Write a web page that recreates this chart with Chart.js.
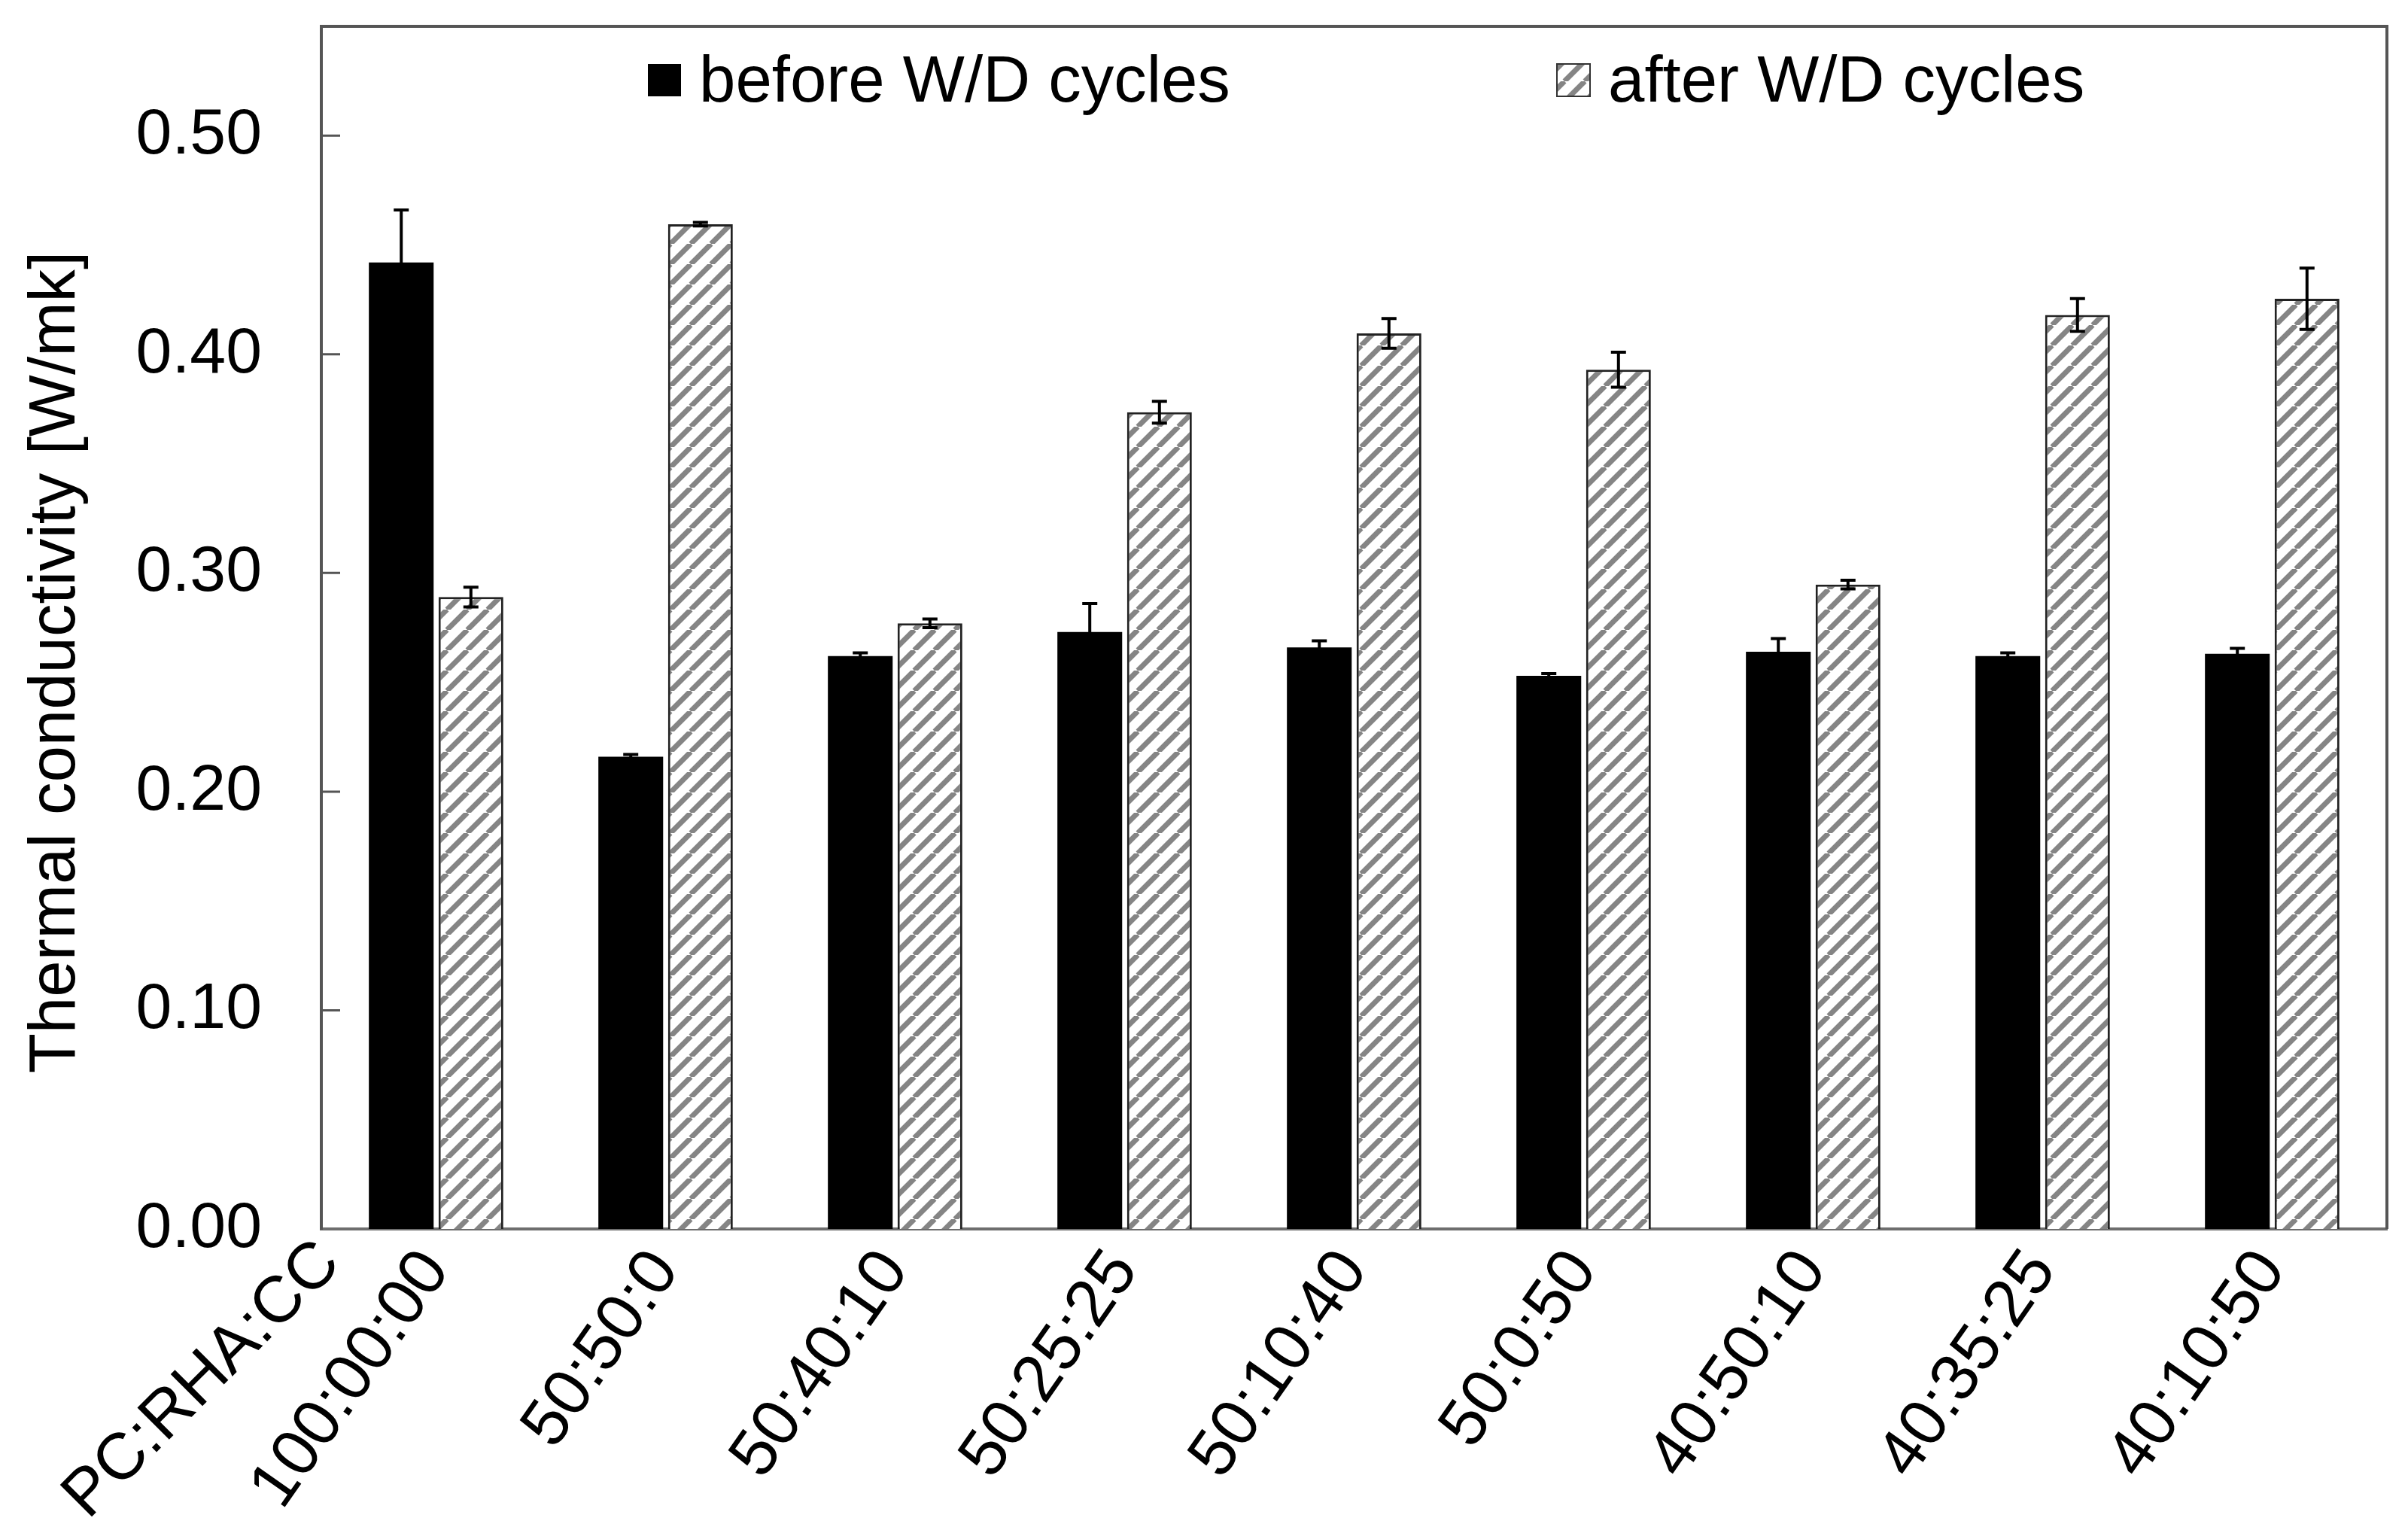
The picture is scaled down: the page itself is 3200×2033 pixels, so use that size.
<!DOCTYPE html>
<html>
<head>
<meta charset="utf-8">
<script src="https://cdn.jsdelivr.net/npm/chart.js@4.4.1/dist/chart.umd.min.js"></script>
<style>
  html, body { margin: 0; padding: 0; background: #fff; }
  canvas { display: block; }
</style>
</head>
<body>
<canvas id="chart" width="3200" height="2033"></canvas>
<script>
// Mix ratios along the x axis
const categories = ['100:00:00', '50:50:0', '50:40:10', '50:25:25', '50:10:40', '50:0:50', '40:50:10', '40:35:25', '40:10:50'];
const compositionLabel = 'PC:RHA:CC';

// Thermal conductivity, W/mK, with error bar half-lengths
const beforeValues = [0.442, 0.216, 0.262, 0.273, 0.266, 0.253, 0.264, 0.262, 0.263];
const beforeErrors = [0.024, 0.001, 0.0015, 0.013, 0.003, 0.001, 0.006, 0.0015, 0.0025];
const afterValues  = [0.289, 0.4595, 0.277, 0.3735, 0.4096, 0.393, 0.2947, 0.418, 0.4254];
const afterErrors  = [0.0045, 0.0008, 0.002, 0.005, 0.0068, 0.008, 0.002, 0.0075, 0.014];

const seriesLabels = ['before W/D cycles', 'after W/D cycles'];
const yTicks = [0, 0.1, 0.2, 0.3, 0.4, 0.5];
const yTitle = 'Thermal conductivity [W/mk]';

const FONT = "'Liberation Sans', Arial, Helvetica, sans-serif";

// grey "/" hatch used for the after-cycles bars
function makeHatch() {
    const s = 27;
    const c = document.createElement('canvas');
    c.width = s; c.height = s;
    const g = c.getContext('2d');
    g.fillStyle = '#ffffff';
    g.fillRect(0, 0, s, s);
    g.strokeStyle = '#858585';
    g.lineWidth = 7;
    g.beginPath();
    for (let k = -1; k <= 1; k++) {
        g.moveTo(k * s, s);
        g.lineTo(k * s + s, 0);
    }
    g.stroke();
    return g.createPattern(c, 'repeat');
}
const hatch = makeHatch();

// error bars from each bar's own x and the y scale
const errorBars = {
    id: 'errorBars',
    afterDatasetsDraw(chart) {
        const ctx = chart.ctx;
        const y = chart.scales.y;
        ctx.save();
        ctx.strokeStyle = '#000';
        ctx.lineWidth = 4;
        chart.data.datasets.forEach((ds, i) => {
            chart.getDatasetMeta(i).data.forEach((bar, j) => {
                const v = ds.data[j], e = ds.errors[j];
                const yTop = y.getPixelForValue(v + e);
                const yBot = y.getPixelForValue(v - e);
                ctx.beginPath();
                ctx.moveTo(bar.x, yTop); ctx.lineTo(bar.x, yBot);
                ctx.moveTo(bar.x - 10, yTop); ctx.lineTo(bar.x + 10, yTop);
                ctx.moveTo(bar.x - 10, yBot); ctx.lineTo(bar.x + 10, yBot);
                ctx.stroke();
            });
        });
        ctx.restore();
    }
};

// frame, inward ticks, legend, axis title and the first label's header line
const decorations = {
    id: 'decorations',
    afterDraw(chart) {
        const ctx = chart.ctx;
        const area = chart.chartArea;
        const y = chart.scales.y;
        const x = chart.scales.x;
        ctx.save();

        // top and right frame
        ctx.strokeStyle = '#555';
        ctx.lineWidth = 4;
        ctx.beginPath();
        ctx.moveTo(area.left, area.top);
        ctx.lineTo(area.right, area.top);
        ctx.lineTo(area.right, area.bottom);
        ctx.stroke();

        // inward tick marks
        ctx.lineWidth = 3;
        ctx.beginPath();
        yTicks.forEach(v => {
            if (v === 0) return;
            const py = y.getPixelForValue(v);
            ctx.moveTo(area.left, py);
            ctx.lineTo(area.left + 25, py);
        });
        ctx.stroke();

        // legend inside the plot
        ctx.font = '87px ' + FONT;
        ctx.fillStyle = '#000';
        ctx.textBaseline = 'alphabetic';
        ctx.textAlign = 'left';
        const items = [
            { dx: 434, ds: chart.data.datasets[0] },
            { dx: 1642, ds: chart.data.datasets[1] }
        ];
        items.forEach(it => {
            const bx = area.left + it.dx;
            ctx.fillStyle = it.ds.backgroundColor;
            ctx.fillRect(bx, 85, 44, 43);
            if (it.ds.borderWidth) {
                ctx.strokeStyle = '#333';
                ctx.lineWidth = 2;
                ctx.strokeRect(bx, 85, 44, 43);
            }
            ctx.fillStyle = '#000';
            ctx.fillText(it.ds.label, bx + 68, 135);
        });

        // y axis title
        ctx.save();
        ctx.translate(99, (area.top + area.bottom) / 2 + 46);
        ctx.rotate(-Math.PI / 2);
        ctx.textAlign = 'center';
        ctx.textBaseline = 'alphabetic';
        ctx.fillText(yTitle, 0, 0);
        ctx.restore();

        // header line of the category labels
        ctx.save();
        ctx.font = '87px ' + FONT;
        ctx.translate(x.getPixelForTick(0) - 141, area.bottom + 32);
        ctx.rotate(-Math.PI / 4);
        ctx.textAlign = 'right';
        ctx.textBaseline = 'middle';
        ctx.fillText(compositionLabel, 0, 0);
        ctx.restore();

        ctx.restore();
    }
};

new Chart(document.getElementById('chart'), {
    type: 'bar',
    data: {
        labels: categories,
        datasets: [
            {
                label: seriesLabels[0],
                data: beforeValues,
                errors: beforeErrors,
                backgroundColor: '#000000',
                borderWidth: 0
            },
            {
                label: seriesLabels[1],
                data: afterValues,
                errors: afterErrors,
                backgroundColor: hatch,
                borderColor: '#222',
                borderWidth: 3
            }
        ]
    },
    options: {
        responsive: false,
        devicePixelRatio: 1,
        animation: false,
        datasets: { bar: { categoryPercentage: 0.607, barPercentage: 0.93 } },
        layout: { padding: { left: 0, right: 28, top: 35, bottom: 0 } },
        plugins: {
            legend: { display: false },
            tooltip: { enabled: false }
        },
        scales: {
            x: {
                z: 1,
                grid: { display: false, drawTicks: false },
                border: { display: true, color: '#6e6e6e', width: 4 },
                ticks: {
                    autoSkip: false,
                    maxRotation: 55,
                    minRotation: 55,
                    padding: 10,
                    color: '#000',
                    font: { family: FONT, size: 88 }
                },
                afterFit: s => {
                    s.height = 400;
                    s.paddingLeft = 0; s.paddingRight = 0;
                    s.paddingTop = 0; s.paddingBottom = 0;
                }
            },
            y: {
                min: 0,
                max: 0.55,
                grid: { display: false, drawTicks: false },
                border: { display: true, color: '#555', width: 4 },
                afterBuildTicks: s => { s.ticks = yTicks.map(v => ({ value: v })); },
                ticks: {
                    padding: 79,
                    color: '#000',
                    font: { family: FONT, size: 86 },
                    callback: v => Number(v).toFixed(2)
                },
                afterFit: s => {
                    s.width = 427;
                    s.paddingTop = 0; s.paddingBottom = 0;
                    s.paddingLeft = 0; s.paddingRight = 0;
                }
            }
        }
    },
    plugins: [errorBars, decorations]
});
</script>
</body>
</html>
